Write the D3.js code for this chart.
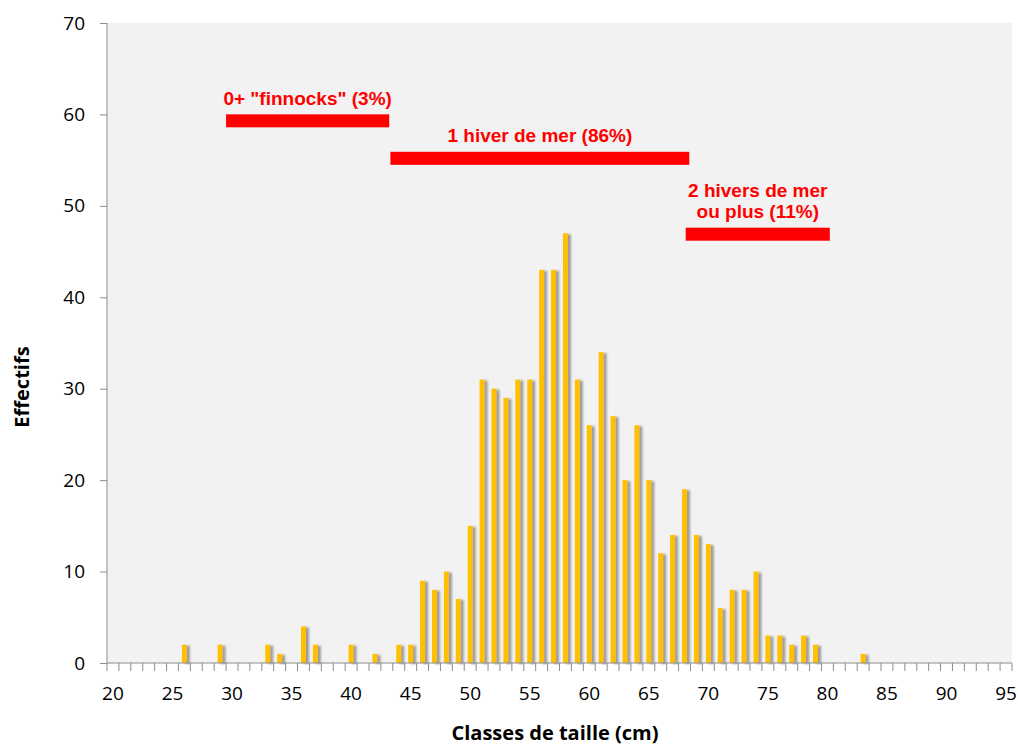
<!DOCTYPE html>
<html>
<head>
<meta charset="utf-8">
<script src="https://cdnjs.cloudflare.com/ajax/libs/d3/7.8.5/d3.min.js"></script>
<style>
  body { margin: 0; background: #fff; }
  text { font-family: "Open Sans", sans-serif; }
</style>
</head>
<body>
<div id="wrapper"></div>
<script>
// size classes (cm) and counts
const classes = [20, 21, 22, 23, 24, 25, 26, 27, 28, 29, 30, 31, 32, 33, 34, 35, 36, 37, 38, 39,
                 40, 41, 42, 43, 44, 45, 46, 47, 48, 49, 50, 51, 52, 53, 54, 55, 56, 57, 58, 59,
                 60, 61, 62, 63, 64, 65, 66, 67, 68, 69, 70, 71, 72, 73, 74, 75, 76, 77, 78, 79,
                 80, 81, 82, 83, 84, 85, 86, 87, 88, 89, 90, 91, 92, 93, 94, 95];
const effectifs = [0, 0, 0, 0, 0, 0, 2, 0, 0, 2, 0, 0, 0, 2, 1, 0, 4, 2, 0, 0,
                   2, 0, 1, 0, 2, 2, 9, 8, 10, 7, 15, 31, 30, 29, 31, 31, 43, 43, 47, 31,
                   26, 34, 27, 20, 26, 20, 12, 14, 19, 14, 13, 6, 8, 8, 10, 3, 3, 2, 3, 2,
                   0, 0, 0, 1, 0, 0, 0, 0, 0, 0, 0, 0, 0, 0, 0, 0];
const xTickLabels = [20, 25, 30, 35, 40, 45, 50, 55, 60, 65, 70, 75, 80, 85, 90, 95];
const yTicks = [0, 10, 20, 30, 40, 50, 60, 70];

// age groups: label lines, start/end (cm), level (count units)
const groupLabels = [["0+ \"finnocks\" (3%)"], ["1 hiver de mer (86%)"], ["2 hivers de mer", "ou plus (11%)"]];
const groupStart = [30, 43.8, 68.6];
const groupEnd = [43.7, 68.9, 80.7];
const groupLevel = [59.3, 55.2, 46.9];

const data = classes.map((c, i) => ({ c: c, n: effectifs[i] }));

const dimensions = {
    width: 1018,
    height: 747,
    margin: { top: 23, right: 6, bottom: 84, left: 107 }
};
dimensions.boundedWidth = dimensions.width - dimensions.margin.left - dimensions.margin.right;
dimensions.boundedHeight = dimensions.height - dimensions.margin.top - dimensions.margin.bottom;

const svg = d3.select("#wrapper")
    .append("svg")
    .attr("width", dimensions.width)
    .attr("height", dimensions.height);

const defs = svg.append("defs");
const shadow = defs.append("filter")
    .attr("id", "shadow")
    .attr("x", "-50%").attr("y", "-5%")
    .attr("width", "250%").attr("height", "110%");
shadow.append("feDropShadow")
    .attr("dx", 3).attr("dy", 1)
    .attr("stdDeviation", 1.3)
    .attr("flood-color", "#808080")
    .attr("flood-opacity", 0.75);

const bounds = svg.append("g")
    .attr("transform", `translate(${dimensions.margin.left},${dimensions.margin.top})`);

const xScale = d3.scaleBand()
    .domain(classes)
    .range([0, dimensions.boundedWidth])
    .padding(0);

const xLinear = d3.scaleLinear()
    .domain([classes[0], classes[classes.length - 1] + 1])
    .range([0, dimensions.boundedWidth]);

const yScale = d3.scaleLinear()
    .domain([0, 70])
    .range([dimensions.boundedHeight, 0]);

// plot area
bounds.append("rect")
    .attr("width", dimensions.boundedWidth)
    .attr("height", dimensions.boundedHeight)
    .attr("fill", "#f2f2f2");

// bars
const barW = xScale.bandwidth() * 0.42;
bounds.append("g")
    .attr("filter", "url(#shadow)")
    .selectAll("rect")
    .data(data.filter(d => d.n > 0))
    .join("rect")
    .attr("x", d => xScale(d.c) + (xScale.bandwidth() - barW) / 2)
    .attr("y", d => yScale(d.n))
    .attr("width", barW)
    .attr("height", d => yScale(0) - yScale(d.n))
    .attr("fill", "#ffc000");

// y axis
const yAxis = bounds.append("g")
    .call(d3.axisLeft(yScale).tickValues(yTicks).tickSize(7).tickPadding(15));
yAxis.select(".domain").attr("stroke", "#8c8c8c").attr("d", `M0,0V${dimensions.boundedHeight}`);
yAxis.selectAll(".tick line").attr("stroke", "#8c8c8c");
yAxis.selectAll(".tick text")
    .attr("font-size", 19)
    .attr("fill", "#000")
    .style("font-family", "'Open Sans', sans-serif");

// x axis: ticks at class boundaries, labels in the middle of the class
const xAxis = bounds.append("g")
    .attr("transform", `translate(0,${dimensions.boundedHeight})`);
xAxis.append("line")
    .attr("x1", 0).attr("x2", dimensions.boundedWidth)
    .attr("stroke", "#8c8c8c");
xAxis.selectAll(".xt")
    .data(classes.concat([classes[classes.length - 1] + 1]))
    .join("line")
    .attr("class", "xt")
    .attr("x1", d => xLinear(d)).attr("x2", d => xLinear(d))
    .attr("y1", 0).attr("y2", 8)
    .attr("stroke", "#8c8c8c");
xAxis.selectAll(".xl")
    .data(xTickLabels)
    .join("text")
    .attr("class", "xl")
    .attr("x", d => xScale(d) + xScale.bandwidth() / 2)
    .attr("y", 37)
    .attr("text-anchor", "middle")
    .attr("font-size", 19)
    .attr("fill", "#000")
    .text(d => d);

// axis titles
svg.append("text")
    .attr("x", 555)
    .attr("y", 740)
    .attr("text-anchor", "middle")
    .attr("font-size", 20)
    .attr("font-weight", "bold")
    .attr("fill", "#000")
    .text("Classes de taille (cm)");

svg.append("text")
    .attr("transform", "translate(29,387) rotate(-90)")
    .attr("text-anchor", "middle")
    .attr("font-size", 20)
    .attr("font-weight", "bold")
    .attr("fill", "#000")
    .text("Effectifs");

// age group annotations
const groups = bounds.selectAll(".grp")
    .data(groupLabels.map((l, i) => ({ lines: l, s: groupStart[i], e: groupEnd[i], lvl: groupLevel[i] })))
    .join("g")
    .attr("class", "grp");

groups.append("rect")
    .attr("x", d => xLinear(d.s))
    .attr("y", d => yScale(d.lvl) - 6.5)
    .attr("width", d => xLinear(d.e) - xLinear(d.s))
    .attr("height", 13)
    .attr("fill", "#ff0000");

groups.each(function(d) {
    const g = d3.select(this);
    const n = d.lines.length;
    d.lines.forEach((line, j) => {
        g.append("text")
            .attr("x", (xLinear(d.s) + xLinear(d.e)) / 2)
            .attr("y", yScale(d.lvl) - 16 - (n - 1 - j) * 21)
            .attr("text-anchor", "middle")
            .attr("font-size", 19)
            .attr("font-weight", "bold")
            .attr("fill", "#ff0000")
            .style("font-family", "'Liberation Sans', Arial, sans-serif")
            .text(line);
    });
});
</script>
</body>
</html>
